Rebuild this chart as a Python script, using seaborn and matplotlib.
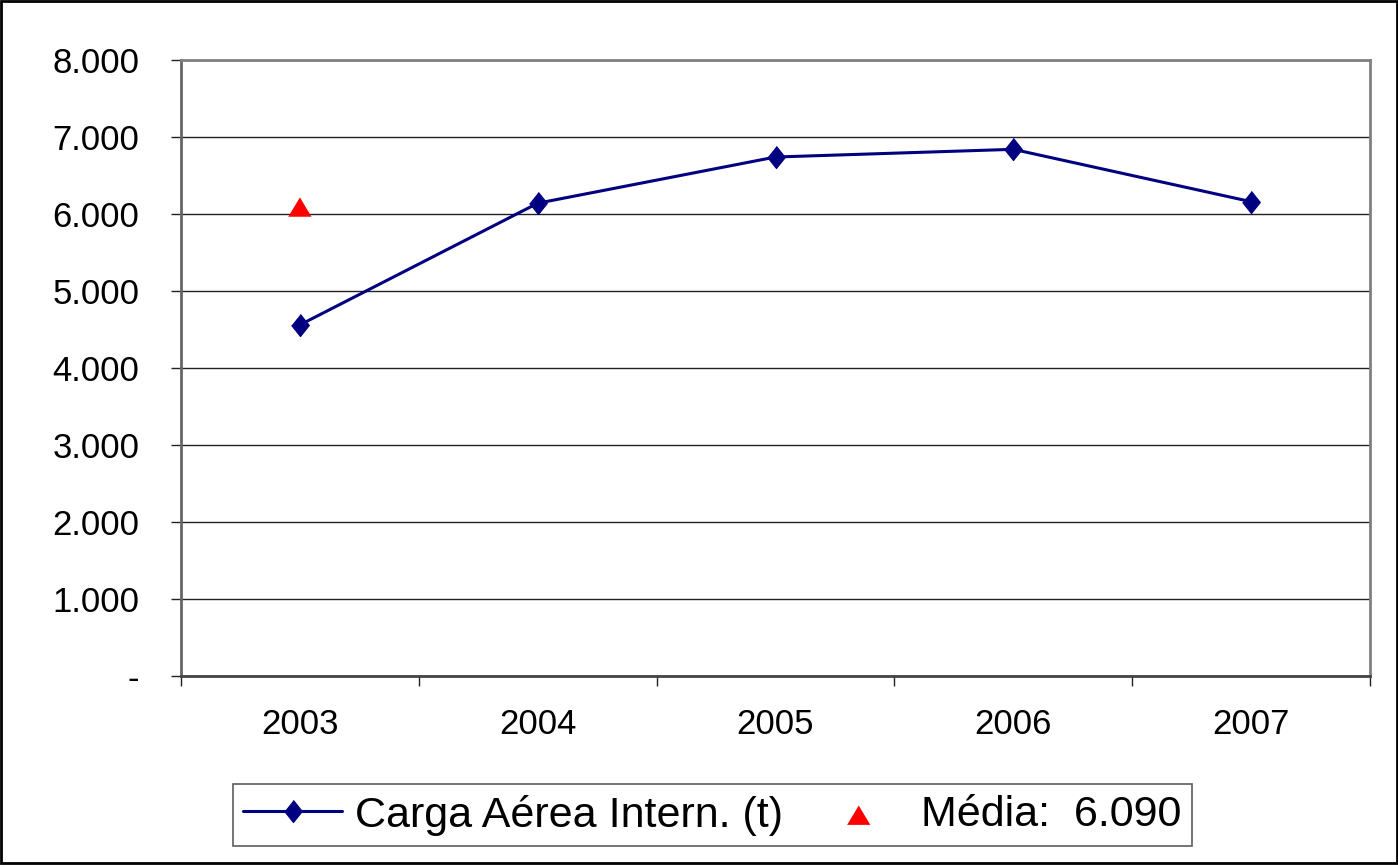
import matplotlib
matplotlib.use('Agg')
import numpy as np
import pandas as pd
import matplotlib.pyplot as plt
import seaborn as sns
from matplotlib.patches import Rectangle
from matplotlib.ticker import FuncFormatter

years = ["2003", "2004", "2005", "2006", "2007"]
carga = [4560, 6140, 6740, 6840, 6160]
media_year = ["2003"]
media = [6090]
yticks = [0, 1000, 2000, 3000, 4000, 5000, 6000, 7000, 8000]

sns.set_style("white")
plt.rcParams['font.family'] = ['Liberation Sans', 'DejaVu Sans']
plt.rcParams['text.color'] = 'black'
plt.rcParams['xtick.color'] = 'black'
plt.rcParams['ytick.color'] = 'black'

df = pd.DataFrame({"Ano": years, "Carga": carga})
df_media = pd.DataFrame({"Ano": media_year, "Media": media})

fig = plt.figure(figsize=(13.98, 8.67), dpi=100)
ax = fig.add_axes([181 / 1398, 1 - 676 / 867, (1370 - 181) / 1398, (676 - 60) / 867])

diamond = [(0, 1), (0.8, 0), (0, -1), (-0.8, 0)]
triangle = [(0, 1), (-1.2, -1), (1.2, -1)]

sns.lineplot(data=df, x="Ano", y="Carga", ax=ax, color="#000080", linewidth=2.2,
             marker=diamond, markersize=16, markeredgecolor="#000080",
             label="Carga Aérea Intern. (t)", legend=False, sort=False)
sns.scatterplot(data=df_media, x="Ano", y="Media", ax=ax, color="#ff0000",
                marker=triangle, s=280, edgecolor="none",
                label="Média:  6.090", legend=False)

ax.set_xlim(-0.5, len(years) - 0.5)
ax.set_ylim(0, 8000)
ax.set_yticks(yticks)
ax.yaxis.set_major_formatter(FuncFormatter(
    lambda v, p: "-" if v == 0 else f"{int(v):,}".replace(",", ".")))

# category boundaries as ticks, labels at centres
ax.set_xticks(np.arange(-0.5, len(years), 1.0))
ax.set_xticklabels([])
ax.set_xticks(np.arange(len(years)), minor=True)
ax.set_xticklabels(years, minor=True)
ax.tick_params(axis="x", which="major", direction="out", length=7, width=1, color="#222222", bottom=True)
ax.tick_params(axis="x", which="minor", length=0, pad=23, labelsize=25)
ax.tick_params(axis="y", direction="out", length=7, width=1, color="#222222", pad=23, labelsize=25, left=True)

ax.set_xlabel("")
ax.set_ylabel("")
ax.grid(axis="y", color="#222222", linewidth=1.0)
ax.set_axisbelow(True)

for s in ["top", "right"]:
    ax.spines[s].set_color("#808080")
    ax.spines[s].set_linewidth(2)
ax.spines["left"].set_color("#666666")
ax.spines["left"].set_linewidth(2)
ax.spines["bottom"].set_color("#444444")
ax.spines["bottom"].set_linewidth(2)

handles, labels = ax.get_legend_handles_labels()
leg = fig.legend(handles, labels, loc="center",
                 bbox_to_anchor=((232 + 1193) / 2 / 1398, 1 - 815 / 867),
                 ncol=2, fontsize=31, frameon=True, fancybox=False,
                 handlelength=2.3, handletextpad=0.3, columnspacing=0.6,
                 borderpad=0.25, borderaxespad=0, scatterpoints=1)
leg.get_frame().set_edgecolor("#333333")
leg.get_frame().set_linewidth(1.2)

fig.patches.append(Rectangle((0.001, 0.005), 0.998, 0.994, transform=fig.transFigure,
                             fill=False, edgecolor="black", linewidth=2))

fig.savefig("out.png", dpi=100)
